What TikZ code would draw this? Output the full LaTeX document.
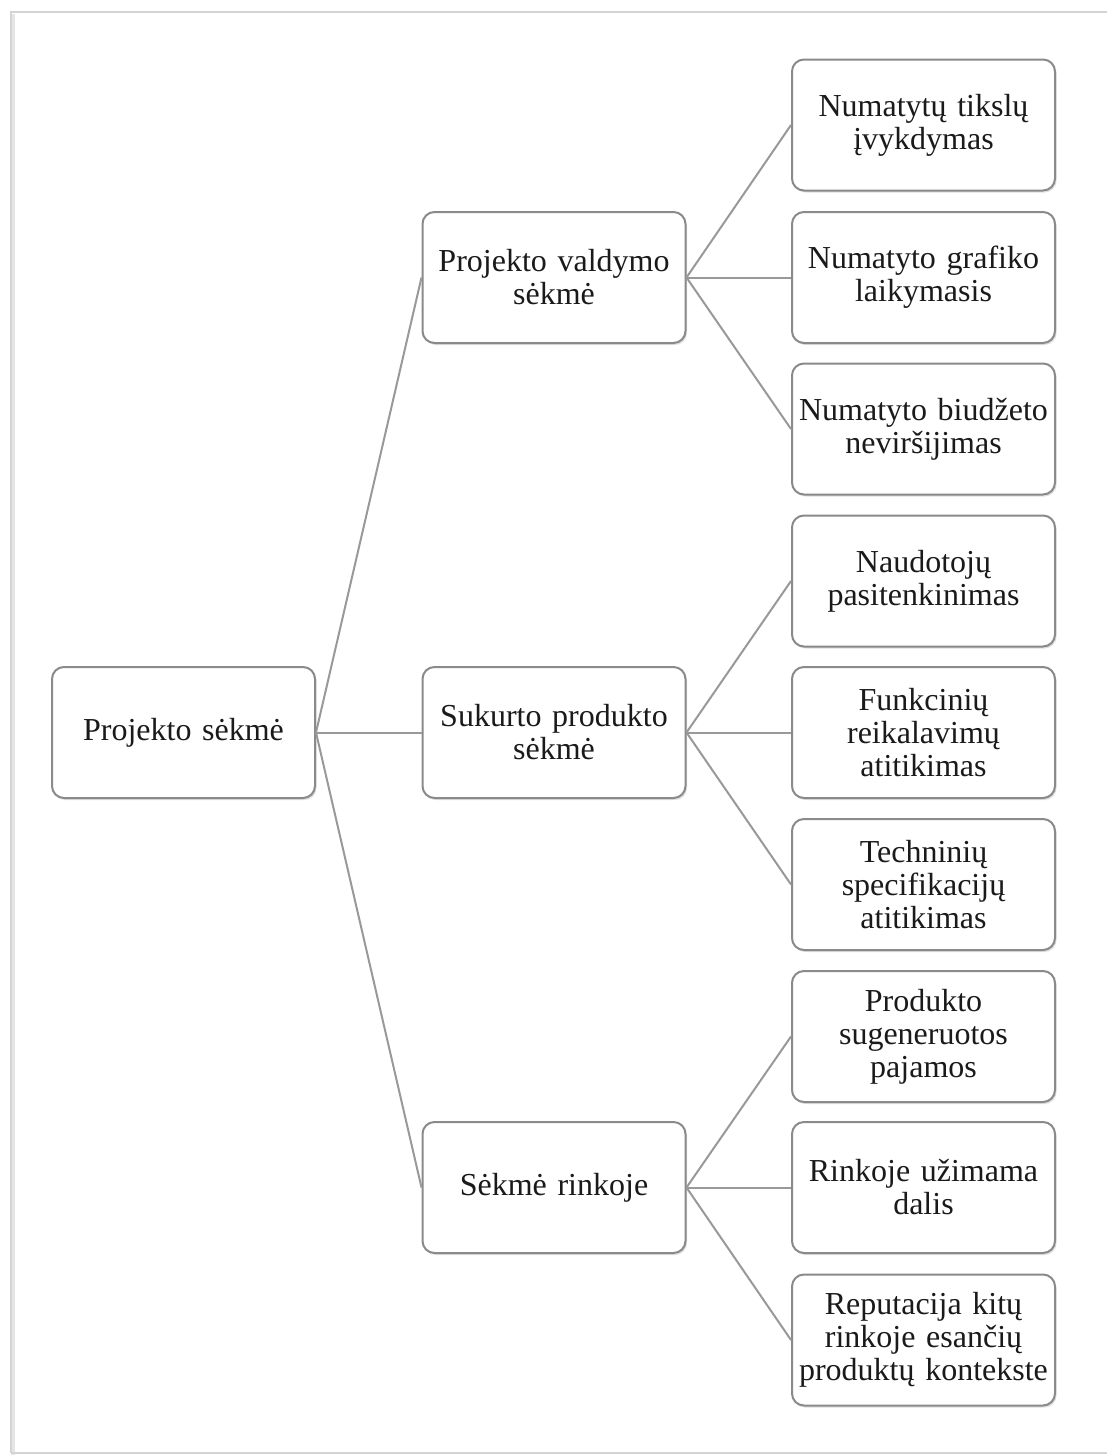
\documentclass[tikz,border=0pt]{standalone}
\usepackage{fontspec}
\setmainfont{Liberation Serif}
\usetikzlibrary{shadows}
\definecolor{boxline}{HTML}{8A8A8A}
\definecolor{conline}{HTML}{999999}
\definecolor{frameline}{HTML}{D4D4D4}
\definecolor{txt}{HTML}{1A1A1A}
\begin{document}
\begin{tikzpicture}[x=1pt,y=-1pt,
  box/.style={draw=boxline, line width=2pt, rounded corners=12pt, fill=white,
    minimum width=263pt, minimum height=131pt, inner sep=0pt, text width=258pt,
    align=center, text=txt, font=\fontsize{32}{33}\selectfont,
    drop shadow={shadow xshift=1.5pt, shadow yshift=-2pt, opacity=0.25, fill=gray}},
  con/.style={draw=conline, line width=2pt}]
\useasboundingbox (0,0) rectangle (1107,1456);
\fill[white] (0,0) rectangle (1107,1456);
% outer frame with shadow
\draw[draw=frameline!60, line width=4pt] (13,14) -- (13,1455);
\draw[draw=frameline, line width=2pt] (11,1453) -- (11,12) -- (1120,12);
\draw[draw=frameline, line width=2pt] (11,1453) -- (1120,1453);

\node[box] (root) at (183.5,732.5) {Projekto sėkmė};

\node[box] (m1) at (554,277.5) {Projekto valdymo\\sėkmė};
\node[box] (m2) at (554,732.5) {Sukurto produkto\\sėkmė};
\node[box] (m3) at (554,1187.5) {Sėkmė rinkoje};

\node[box] (r1) at (923.5,125) {Numatytų tikslų\\įvykdymas};
\node[box] (r2) at (923.5,277.5) {Numatyto grafiko\\laikymasis};
\node[box] (r3) at (923.5,429) {Numatyto biudžeto\\neviršijimas};
\node[box] (r4) at (923.5,581) {Naudotojų\\pasitenkinimas};
\node[box] (r5) at (923.5,732.5) {Funkcinių\\reikalavimų\\atitikimas};
\node[box] (r6) at (923.5,884.5) {Techninių\\specifikacijų\\atitikimas};
\node[box] (r7) at (923.5,1036.5) {Produkto\\sugeneruotos\\pajamos};
\node[box] (r8) at (923.5,1187.5) {Rinkoje užimama\\dalis};
\node[box] (r9) at (923.5,1340) {Reputacija kitų\\rinkoje esančių\\produktų kontekste};

\foreach \m in {m1,m2,m3}{\draw[con] (root.east) -- (\m.west);}
\foreach \r in {r1,r2,r3}{\draw[con] (m1.east) -- (\r.west);}
\foreach \r in {r4,r5,r6}{\draw[con] (m2.east) -- (\r.west);}
\foreach \r in {r7,r8,r9}{\draw[con] (m3.east) -- (\r.west);}
\end{tikzpicture}
\end{document}
